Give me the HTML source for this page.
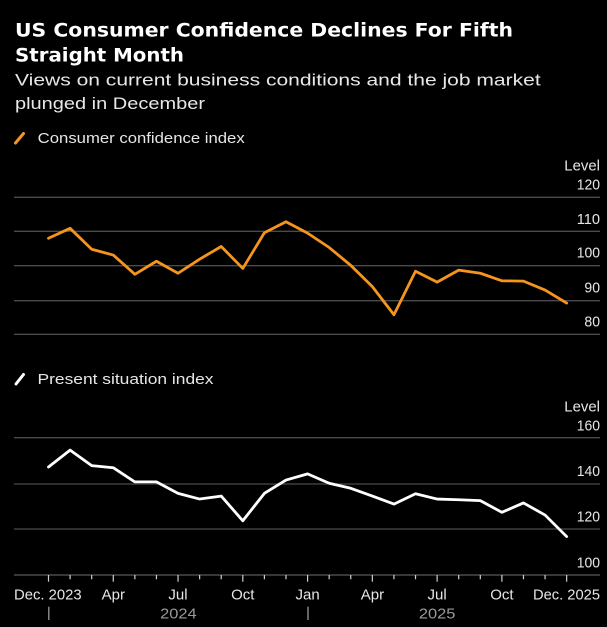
<!DOCTYPE html>
<html>
<head>
<meta charset="utf-8">
<style>
  html, body { margin:0; padding:0; background:#000; }
  body { width:607px; height:627px; overflow:hidden; }
  svg { display:block; }
  text { font-family: "Liberation Sans", "DejaVu Sans", sans-serif; }
  text.title { font-family: "DejaVu Sans", "Liberation Sans", sans-serif; font-weight: bold; }
</style>
</head>
<body>
<svg width="607" height="627" viewBox="0 0 607 627" xmlns="http://www.w3.org/2000/svg">
  <rect x="0" y="0" width="607" height="627" fill="#000"/>

  <!-- Title -->
  <text class="title" x="15" y="36.7" fill="#ffffff" style="font-family:'DejaVu Sans',sans-serif;font-weight:bold;font-size:18.5px" textLength="498" lengthAdjust="spacingAndGlyphs">US Consumer Confidence Declines For Fifth</text>
  <text class="title" x="15" y="61.7" fill="#ffffff" style="font-family:'DejaVu Sans',sans-serif;font-weight:bold;font-size:18.5px" textLength="169" lengthAdjust="spacingAndGlyphs">Straight Month</text>

  <!-- Subtitle -->
  <text x="15" y="85.7" fill="#e8e8e8" font-size="17" textLength="525.7" lengthAdjust="spacingAndGlyphs">Views on current business conditions and the job market</text>
  <text x="15" y="109" fill="#e8e8e8" font-size="17" textLength="190" lengthAdjust="spacingAndGlyphs">plunged in December</text>

  <!-- Legend 1 -->
  <line x1="15.5" y1="143" x2="23.5" y2="133.5" stroke="#f6951e" stroke-width="3" stroke-linecap="round"/>
  <text x="37.7" y="143" fill="#e6e6e6" font-size="15" textLength="207" lengthAdjust="spacingAndGlyphs">Consumer confidence index</text>

  <!-- Top chart axis labels -->
  <g fill="#e6e6e6" font-size="15" text-anchor="end">
    <text x="600" y="170.7" textLength="35.7" lengthAdjust="spacingAndGlyphs">Level</text>
    <text x="600" y="189.3" textLength="23.3" lengthAdjust="spacingAndGlyphs">120</text>
    <text x="600" y="224" textLength="23.3" lengthAdjust="spacingAndGlyphs">110</text>
    <text x="600" y="257.7" textLength="23.3" lengthAdjust="spacingAndGlyphs">100</text>
    <text x="600" y="292.7" textLength="15.6" lengthAdjust="spacingAndGlyphs">90</text>
    <text x="600" y="326.7" textLength="15.6" lengthAdjust="spacingAndGlyphs">80</text>
  </g>

  <!-- Top chart gridlines -->
  <g stroke="#4a4a4a" stroke-width="1.3">
    <line x1="14" y1="197.3" x2="600" y2="197.3"/>
    <line x1="14" y1="231.3" x2="600" y2="231.3"/>
    <line x1="14" y1="265.7" x2="600" y2="265.7"/>
    <line x1="14" y1="300.7" x2="600" y2="300.7"/>
    <line x1="14" y1="334.3" x2="600" y2="334.3"/>
  </g>

  <!-- Orange series -->
  <polyline fill="none" stroke="#f6951e" stroke-width="2.8" stroke-linejoin="round" stroke-linecap="round"
    points="48.5,238.26 70.09,228.31 91.68,249.24 113.27,255.07 134.86,274.28 156.45,261.24 178.04,273.25 199.63,259.18 221.22,246.49 242.81,268.44 264.4,232.77 285.99,221.8 307.58,233.11 329.17,247.52 350.76,265.36 372.35,286.62 393.94,314.75 415.53,271.19 437.12,282.16 458.71,270.16 480.3,273.25 501.89,280.79 523.48,281.14 545.07,290.05 566.66,303.09"/>

  <!-- Legend 2 -->
  <line x1="16" y1="384" x2="23.5" y2="374.5" stroke="#ffffff" stroke-width="3" stroke-linecap="round"/>
  <text x="37.5" y="384" fill="#e6e6e6" font-size="15" textLength="176" lengthAdjust="spacingAndGlyphs">Present situation index</text>

  <!-- Bottom chart axis labels -->
  <g fill="#e6e6e6" font-size="15" text-anchor="end">
    <text x="600" y="411.7" textLength="35.7" lengthAdjust="spacingAndGlyphs">Level</text>
    <text x="600" y="430.7" textLength="23.3" lengthAdjust="spacingAndGlyphs">160</text>
    <text x="600" y="476" textLength="23.3" lengthAdjust="spacingAndGlyphs">140</text>
    <text x="600" y="521.7" textLength="23.3" lengthAdjust="spacingAndGlyphs">120</text>
    <text x="600" y="567.3" textLength="23.3" lengthAdjust="spacingAndGlyphs">100</text>
  </g>

  <!-- Bottom chart gridlines -->
  <g stroke="#4a4a4a" stroke-width="1.3">
    <line x1="14" y1="437.7" x2="600" y2="437.7"/>
    <line x1="14" y1="484" x2="600" y2="484"/>
    <line x1="14" y1="529" x2="600" y2="529"/>
  </g>
  <line x1="14" y1="575" x2="600" y2="575" stroke="#5a5a5a" stroke-width="1.3"/>

  <!-- White series -->
  <polyline fill="none" stroke="#ffffff" stroke-width="2.8" stroke-linejoin="round" stroke-linecap="round"
    points="48.5,467.03 70.09,450.1 91.68,465.66 113.27,467.72 134.86,481.9 156.45,481.9 178.04,493.34 199.63,499.05 221.22,496.08 242.81,520.79 264.4,493.34 285.99,480.07 307.58,473.9 329.17,483.27 350.76,488.3 372.35,496.08 393.94,504.09 415.53,493.79 437.12,499.05 458.71,499.74 480.3,500.66 501.89,512.32 523.48,502.94 545.07,515.07 566.66,536.57"/>

  <!-- X ticks -->
  <g stroke="#cfcfcf" stroke-width="1.2">
    <line x1="48.5" y1="575" x2="48.5" y2="581.7"/>
    <line x1="70.09" y1="575" x2="70.09" y2="579.3"/>
    <line x1="91.68" y1="575" x2="91.68" y2="579.3"/>
    <line x1="113.27" y1="575" x2="113.27" y2="581.7"/>
    <line x1="134.86" y1="575" x2="134.86" y2="579.3"/>
    <line x1="156.45" y1="575" x2="156.45" y2="579.3"/>
    <line x1="178.04" y1="575" x2="178.04" y2="581.7"/>
    <line x1="199.63" y1="575" x2="199.63" y2="579.3"/>
    <line x1="221.22" y1="575" x2="221.22" y2="579.3"/>
    <line x1="242.81" y1="575" x2="242.81" y2="581.7"/>
    <line x1="264.4" y1="575" x2="264.4" y2="579.3"/>
    <line x1="285.99" y1="575" x2="285.99" y2="579.3"/>
    <line x1="307.58" y1="575" x2="307.58" y2="581.7"/>
    <line x1="329.17" y1="575" x2="329.17" y2="579.3"/>
    <line x1="350.76" y1="575" x2="350.76" y2="579.3"/>
    <line x1="372.35" y1="575" x2="372.35" y2="581.7"/>
    <line x1="393.94" y1="575" x2="393.94" y2="579.3"/>
    <line x1="415.53" y1="575" x2="415.53" y2="579.3"/>
    <line x1="437.12" y1="575" x2="437.12" y2="581.7"/>
    <line x1="458.71" y1="575" x2="458.71" y2="579.3"/>
    <line x1="480.3" y1="575" x2="480.3" y2="579.3"/>
    <line x1="501.89" y1="575" x2="501.89" y2="581.7"/>
    <line x1="523.48" y1="575" x2="523.48" y2="579.3"/>
    <line x1="545.07" y1="575" x2="545.07" y2="579.3"/>
    <line x1="566.66" y1="575" x2="566.66" y2="581.7"/>
  </g>

  <!-- X labels -->
  <g fill="#e6e6e6" font-size="15">
    <text x="14" y="599.3" textLength="67.7" lengthAdjust="spacingAndGlyphs">Dec. 2023</text>
    <text x="113.3" y="599.3" text-anchor="middle">Apr</text>
    <text x="178" y="599.3" text-anchor="middle">Jul</text>
    <text x="242.8" y="599.3" text-anchor="middle">Oct</text>
    <text x="307.6" y="599.3" text-anchor="middle">Jan</text>
    <text x="372.4" y="599.3" text-anchor="middle">Apr</text>
    <text x="437.1" y="599.3" text-anchor="middle">Jul</text>
    <text x="501.9" y="599.3" text-anchor="middle">Oct</text>
    <text x="600" y="599.3" text-anchor="end" textLength="67" lengthAdjust="spacingAndGlyphs">Dec. 2025</text>
  </g>

  <!-- Year labels -->
  <g fill="#9a9a9a" font-size="15" text-anchor="middle">
    <text x="178.4" y="618.3" textLength="36.5" lengthAdjust="spacingAndGlyphs">2024</text>
    <text x="437.1" y="618.3" textLength="36.5" lengthAdjust="spacingAndGlyphs">2025</text>
  </g>
  <g stroke="#9a9a9a" stroke-width="1.3">
    <line x1="48.8" y1="606.7" x2="48.8" y2="620"/>
    <line x1="308" y1="606.7" x2="308" y2="620"/>
  </g>
</svg>
</body>
</html>
